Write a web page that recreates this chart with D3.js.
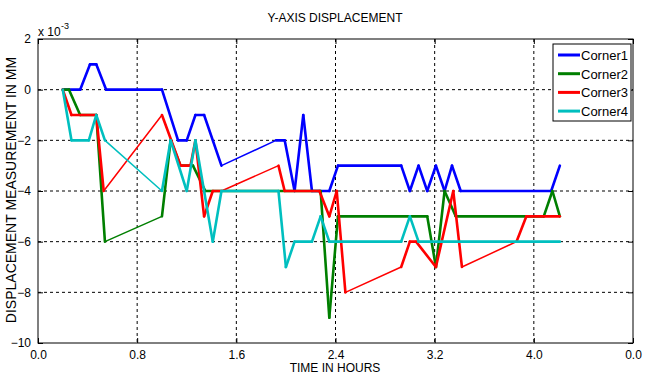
<!DOCTYPE html>
<html>
<head>
<meta charset="utf-8">
<title>Y-Axis Displacement</title>
<script src="https://d3js.org/d3.v7.min.js"></script>
<style>
  body { margin: 0; background: #fff; }
  text { font-family: "Liberation Sans Narrow", "Arial Narrow", "Liberation Sans", Arial, sans-serif; fill: #000; }
</style>
</head>
<body>
<svg id="chart" width="649" height="378"></svg>
<script>
// values are in units of 1e-3 mm, time in hours
var seriesNames = ["Corner1", "Corner2", "Corner3", "Corner4"];
var seriesColors = ["#0000ff", "#007f00", "#ff0000", "#00bfbf"];

var corner1Time = [0.2, 0.34, 0.42, 0.47, 0.55, 1.0, 1.13, 1.2, 1.27, 1.34, 1.48, 1.92, 1.99, 2.07, 2.14, 2.21, 2.35, 2.42, 2.93, 3.0, 3.07, 3.14, 3.21, 3.28, 3.34, 3.41, 4.14, 4.21];
var corner1Val  = [0, 0, 1, 1, 0, 0, -2, -2, -1, -1, -3, -2, -2, -4, -1, -4, -4, -3, -3, -4, -3, -4, -3, -4, -3, -4, -4, -3];

var corner2Time = [0.2, 0.25, 0.34, 0.47, 0.54, 1.0, 1.07, 1.15, 1.25, 1.35, 2.28, 2.35, 2.42, 3.14, 3.21, 3.28, 3.37, 4.08, 4.15, 4.21];
var corner2Val  = [0, 0, -1, -1, -6, -5, -2, -3, -3, -4, -4, -9, -5, -5, -7, -4, -5, -5, -4, -5];

var corner3Time = [0.2, 0.27, 0.47, 0.53, 1.0, 1.15, 1.23, 1.27, 1.34, 1.41, 1.48, 1.94, 1.99, 2.27, 2.35, 2.41, 2.48, 2.93, 3.0, 3.05, 3.21, 3.35, 3.42, 3.86, 3.94, 4.21];
var corner3Val  = [0, -1, -1, -4, -1, -3, -3, -2, -5, -4, -4, -3, -4, -4, -5, -4, -8, -7, -6, -6, -7, -4, -7, -6, -5, -5];

var corner4Time = [0.2, 0.27, 0.41, 0.47, 0.54, 1.0, 1.07, 1.2, 1.27, 1.41, 1.48, 1.94, 2.0, 2.07, 2.21, 2.28, 2.35, 2.93, 3.0, 3.07, 4.21];
var corner4Val  = [0, -2, -2, -1, -2, -4, -2, -4, -2, -6, -4, -4, -7, -6, -6, -5, -6, -6, -5, -6, -6];

var xTicks = [0, 0.8, 1.6, 2.4, 3.2, 4.0, 4.8];
var xTickLabels = ["0.0", "0.8", "1.6", "2.4", "3.2", "4.0", "0.0"];
var yTicks = [2, 0, -2, -4, -6, -8, -10];

var times = [corner1Time, corner2Time, corner3Time, corner4Time];
var vals = [corner1Val, corner2Val, corner3Val, corner4Val];

var svg = d3.select("#chart");
// plot box (window.top is reserved, so prefixed names)
var plotLeft = 38, plotRight = 633, plotTop = 39, plotBottom = 343;

var x = d3.scaleLinear().domain([0, 4.8]).range([plotLeft, plotRight]);
var y = d3.scaleLinear().domain([-10, 2]).range([plotBottom, plotTop]);

// dashed grid
svg.append("g").selectAll("line")
    .data(xTicks.slice(1, -1))
    .enter().append("line")
    .attr("x1", d => x(d)).attr("x2", d => x(d))
    .attr("y1", plotTop).attr("y2", plotBottom)
    .attr("stroke", "#000").attr("stroke-width", 1)
    .attr("stroke-dasharray", "3,3");
svg.append("g").selectAll("line")
    .data(yTicks.slice(1, -1))
    .enter().append("line")
    .attr("x1", plotLeft).attr("x2", plotRight)
    .attr("y1", d => y(d)).attr("y2", d => y(d))
    .attr("stroke", "#000").attr("stroke-width", 1)
    .attr("stroke-dasharray", "3,3");

// axes (ticks drawn inward like matlab)
svg.append("g").attr("transform", "translate(0," + plotBottom + ")")
    .call(d3.axisBottom(x).tickValues(xTicks).tickSizeInner(-5).tickSizeOuter(0)
        .tickPadding(7).tickFormat((d, i) => xTickLabels[i]));
svg.append("g").attr("transform", "translate(" + plotLeft + ",0)")
    .call(d3.axisLeft(y).tickValues(yTicks).tickSizeInner(-5).tickSizeOuter(0)
        .tickPadding(7));
svg.append("g").attr("transform", "translate(0," + plotTop + ")")
    .call(d3.axisTop(x).tickValues(xTicks).tickSizeInner(-5).tickSizeOuter(0).tickFormat(""));
svg.append("g").attr("transform", "translate(" + plotRight + ",0)")
    .call(d3.axisRight(y).tickValues(yTicks).tickSizeInner(-5).tickSizeOuter(0).tickFormat(""));

svg.selectAll(".domain").remove();
svg.selectAll(".tick line").attr("stroke", "#000");
svg.selectAll(".tick text").style("font-size", "12px").attr("fill", "#000");

svg.append("rect")
    .attr("x", plotLeft).attr("y", plotTop)
    .attr("width", plotRight - plotLeft).attr("height", plotBottom - plotTop)
    .attr("fill", "none").attr("stroke", "#000").attr("stroke-width", 1);

// exponent label
svg.append("text").attr("x", 38).attr("y", 36).style("font-size", "12px").text("x 10");
svg.append("text").attr("x", 61).attr("y", 29).style("font-size", "9px").text("-3");

// lines: long gaps between readings come out thinner in the original plot
seriesNames.forEach(function(name, i) {
    var segs = d3.pairs(times[i].map((t, j) => [t, vals[i][j]]));
    svg.append("g").selectAll("line")
        .data(segs)
        .enter().append("line")
        .attr("x1", d => x(d[0][0])).attr("y1", d => y(d[0][1]))
        .attr("x2", d => x(d[1][0])).attr("y2", d => y(d[1][1]))
        .attr("stroke", seriesColors[i])
        .attr("stroke-width", d => (d[1][0] - d[0][0] > 0.3 && d[1][1] != d[0][1]) ? 1.5 : 2.6)
        .attr("stroke-linecap", "round");
});

// titles
svg.append("text").attr("x", 335).attr("y", 22).attr("text-anchor", "middle")
    .style("font-size", "12px").text("Y-AXIS DISPLACEMENT");
svg.append("text").attr("x", 335).attr("y", 372).attr("text-anchor", "middle")
    .style("font-size", "12px").text("TIME IN HOURS");
svg.append("text").attr("transform", "translate(16,190) rotate(-90)")
    .attr("text-anchor", "middle").style("font-size", "14px")
    .text("DISPLACEMENT MEASUREMENT IN MM");

// legend
var legend = svg.append("g");
legend.append("rect").attr("x", 553).attr("y", 44).attr("width", 78).attr("height", 77)
    .attr("fill", "#fff").attr("stroke", "#000").attr("stroke-width", 1);
seriesNames.forEach(function(name, i) {
    var ly = 55 + i * 18.7;
    legend.append("line").attr("x1", 558).attr("x2", 580).attr("y1", ly).attr("y2", ly)
        .attr("stroke", seriesColors[i]).attr("stroke-width", 3);
    legend.append("text").attr("x", 581).attr("y", ly + 5).style("font-size", "13px").text(name);
});
</script>
</body>
</html>
